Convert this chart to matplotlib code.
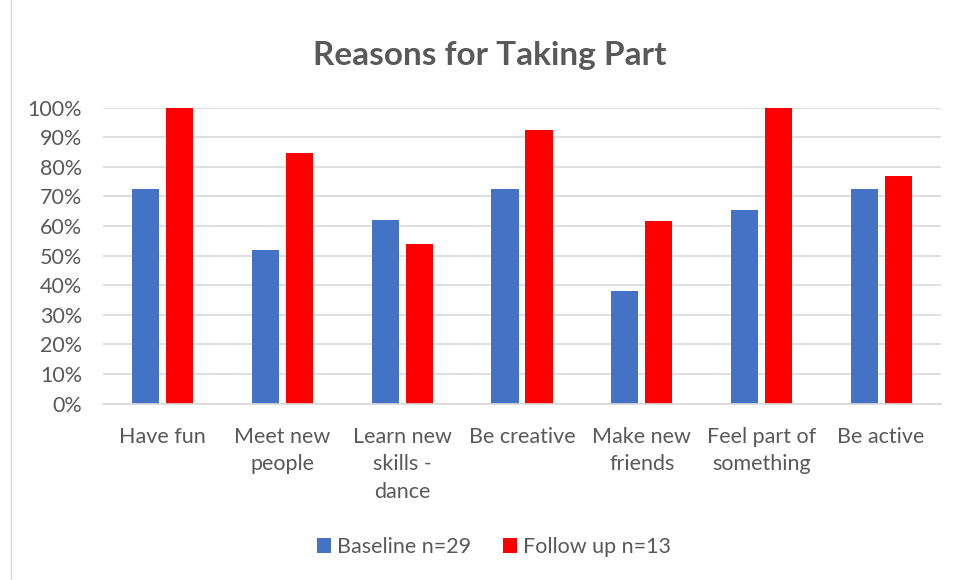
import matplotlib
matplotlib.use("Agg")
import matplotlib.pyplot as plt
import numpy as np
from matplotlib.lines import Line2D
from matplotlib.ticker import PercentFormatter

plt.rcParams['font.family'] = ['Lato', 'DejaVu Sans']

categories = ["Have fun", "Meet new\npeople", "Learn new\nskills -\ndance", "Be creative",
              "Make new\nfriends", "Feel part of\nsomething", "Be active"]
baseline = [72.4, 51.7, 62.1, 72.4, 37.9, 65.5, 72.4]
follow_up = [100, 84.6, 53.8, 92.3, 61.5, 100, 76.9]
series_names = ["Baseline n=29", "Follow up n=13"]

grey = "#595959"
fs = 15.5
fig = plt.figure(figsize=(9.57, 5.8), dpi=100)
ax = fig.add_axes([103/957, 1-403.5/580, 838/957, 296/580])

x = np.arange(len(categories))
w = 0.226
off = 0.142
ax.bar(x - off, baseline, w, color="#4472C4", label=series_names[0], zorder=2)
ax.bar(x + off, follow_up, w, color="#FF0000", label=series_names[1], zorder=2)

ax.set_xlim(-0.5, len(categories) - 0.5)
ax.set_ylim(0, 100)
ax.set_yticks(np.arange(0, 101, 10))
ax.yaxis.set_major_formatter(PercentFormatter(decimals=0))
ax.grid(axis="y", color="#d9d9d9", linewidth=1.2, zorder=0)
for s in ["top", "right", "left"]:
    ax.spines[s].set_visible(False)
ax.spines["bottom"].set_color("#d9d9d9")
ax.spines["bottom"].set_linewidth(1.2)
ax.set_xticks(x)
ax.set_xticklabels(categories, va="top", linespacing=1.45)
ax.tick_params(axis="both", length=0, labelsize=fs, colors=grey, labelcolor=grey)
ax.tick_params(axis="x", pad=17)
ax.tick_params(axis="y", pad=15)

fig.text(0.512, 1-65/580, "Reasons for Taking Part", ha="center", va="baseline",
         fontsize=24, fontweight="bold", color=grey)

fig.legend(loc="center", bbox_to_anchor=(494/957, 1-547/580), ncol=2, frameon=False,
           fontsize=fs, labelcolor=grey, handlelength=0.65, handleheight=0.65,
           handletextpad=0.3, columnspacing=1.45)

# thin frame line on the left edge of the chart area
fig.add_artist(Line2D([10.5/957, 10.5/957], [0, 1], transform=fig.transFigure,
                      color="#d9d9d9", linewidth=1))

fig.savefig("out.png", dpi=100)
